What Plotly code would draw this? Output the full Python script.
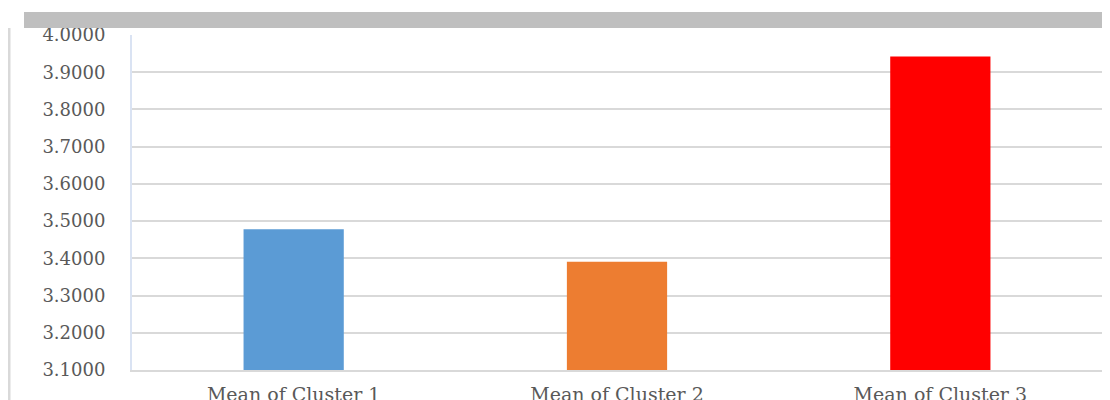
import plotly.graph_objects as go

categories = ["Mean of Cluster 1", "Mean of Cluster 2", "Mean of Cluster 3"]
values = [3.478, 3.391, 3.942]
colors = ["#5b9bd5", "#ed7d31", "#ff0000"]
y_ticks = [3.1, 3.2, 3.3, 3.4, 3.5, 3.6, 3.7, 3.8, 3.9, 4.0]

# the page shows the figure offset by the body's 8px margin; compensate
OFF = 8
W, H = 1110, 400
L_ref, R_ref, T_ref, B_ref = 132, 1102, 35, 370  # plot area in screen pixels
L = L_ref - OFF
T = T_ref - OFF
pw = R_ref - L_ref
ph = B_ref - T_ref
R = W - L - pw
B = H - T - ph

def px(x):
    return (x - L_ref) / pw

def py(y):
    return (B_ref - y) / ph

fig = go.Figure()
fig.add_trace(go.Bar(
    x=categories, y=values,
    marker=dict(color=colors, line=dict(width=0)),
    width=0.31,
))

fig.update_layout(
    width=W, height=H,
    margin=dict(l=L, r=R, t=T, b=B, autoexpand=False),
    paper_bgcolor="white", plot_bgcolor="white",
    showlegend=False,
    font=dict(family="DejaVu Serif", size=17, color="#595959"),
    shapes=[
        dict(type="rect", xref="paper", yref="paper",
             x0=px(24), x1=px(1120), y0=py(28), y1=py(12),
             fillcolor="#bfbfbf", line=dict(width=0), layer="above"),
        dict(type="line", xref="paper", yref="paper",
             x0=px(9), x1=px(9), y0=py(410), y1=py(28),
             line=dict(color="#d9d9d9", width=3)),
    ],
)

fig.update_yaxes(
    range=[3.1, 4.0], tickvals=y_ticks, tickformat=".4f",
    showgrid=True, gridcolor="#d9d9d9", gridwidth=2,
    showline=True, linecolor="#dae3f3", linewidth=2,
    zeroline=False, ticks="", ticklabelstandoff=21,
    tickfont=dict(family="DejaVu Serif", size=18, color="#595959"),
)
fig.update_xaxes(
    showgrid=False, showline=True, linecolor="#d9d9d9", linewidth=2,
    ticks="", ticklabelstandoff=6,
    tickfont=dict(family="DejaVu Serif", size=19, color="#595959"),
)

fig.write_html("out.html")
